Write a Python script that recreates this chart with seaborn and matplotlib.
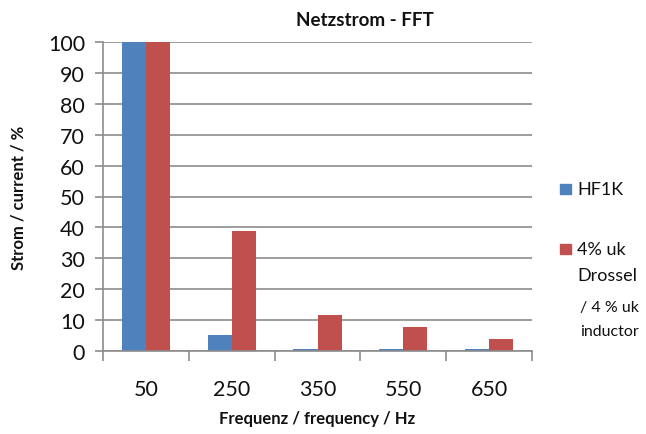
import matplotlib
matplotlib.use("Agg")
import matplotlib.pyplot as plt
import seaborn as sns
import pandas as pd
from matplotlib.ticker import FixedLocator

categories = ["50", "250", "350", "550", "650"]
hf1k = [100, 5.2, 0.8, 0.6, 0.5]
drossel = [100, 38.7, 11.6, 7.9, 3.9]
series_names = ["HF1K", "4% uk Drossel"]
colors = ["#4F81BD", "#C0504D"]

sns.set_theme(style="white")
plt.rcParams['font.family'] = ['Lato', 'DejaVu Sans']

df = pd.DataFrame({
    "Frequenz": categories * 2,
    "Strom": hf1k + drossel,
    "Serie": [series_names[0]] * len(categories) + [series_names[1]] * len(categories),
})

fig = plt.figure(figsize=(6.46, 4.35), dpi=100)
ax = fig.add_axes([103/646, 1-352/435, (532-103)/646, (352-43)/435])

sns.barplot(data=df, x="Frequenz", y="Strom", hue="Serie", order=categories,
            hue_order=series_names, palette=colors, width=0.56, ax=ax,
            saturation=1, legend=False, linewidth=0)

ax.set_ylim(0, 100)
ax.set_xlim(-0.5, len(categories) - 0.5)
ax.set_yticks(range(0, 101, 10))
ax.yaxis.grid(True, color="#8c8c8c", linewidth=1.2)
ax.set_axisbelow(True)
for s in ["top", "right"]:
    ax.spines[s].set_visible(False)
for s in ["left", "bottom"]:
    ax.spines[s].set_color("#8c8c8c")
    ax.spines[s].set_linewidth(1.2)

ax.tick_params(axis="y", which="major", left=True, length=6, width=1.2, color="#8c8c8c",
               labelsize=15.5, pad=7, labelcolor="#111111")
ax.tick_params(axis="x", which="major", bottom=False, labelsize=15.5, pad=14, labelcolor="#111111")
ax.xaxis.set_minor_locator(FixedLocator([i - 0.5 for i in range(len(categories) + 1)]))
ax.tick_params(axis="x", which="minor", bottom=True, length=7, width=1.2, color="#8c8c8c")

ax.set_xlabel("Frequenz / frequency / Hz", fontsize=12, fontweight="bold", labelpad=8, color="#111111")
ax.set_ylabel("Strom / current / %", fontsize=12, fontweight="bold", labelpad=15, color="#111111")

fig.text(365/646, 1-20/435, "Netzstrom - FFT", fontsize=13.5, fontweight="bold",
         ha="center", va="center", color="#111111")

# legend
fig.patches.append(plt.Rectangle((560/646, 1-195/435), 11/646, 10/435, transform=fig.transFigure,
                                 color=colors[0], figure=fig))
fig.text(577/646, 1-190/435, "HF1K", fontsize=13, va="center", ha="left", color="#111111")
fig.patches.append(plt.Rectangle((560/646, 1-255/435), 11/646, 10/435, transform=fig.transFigure,
                                 color=colors[1], figure=fig))
fig.text(577/646, 1-250/435, "4% uk", fontsize=13, va="center", ha="left", color="#111111")
fig.text(577/646, 1-276/435, "Drossel", fontsize=13, va="center", ha="left", color="#111111")
fig.text(580/646, 1-308/435, "/ 4 % uk", fontsize=11.5, va="center", ha="left", color="#111111")
fig.text(580/646, 1-332/435, "inductor", fontsize=11.5, va="center", ha="left", color="#111111")

fig.savefig("out.png", dpi=100)
